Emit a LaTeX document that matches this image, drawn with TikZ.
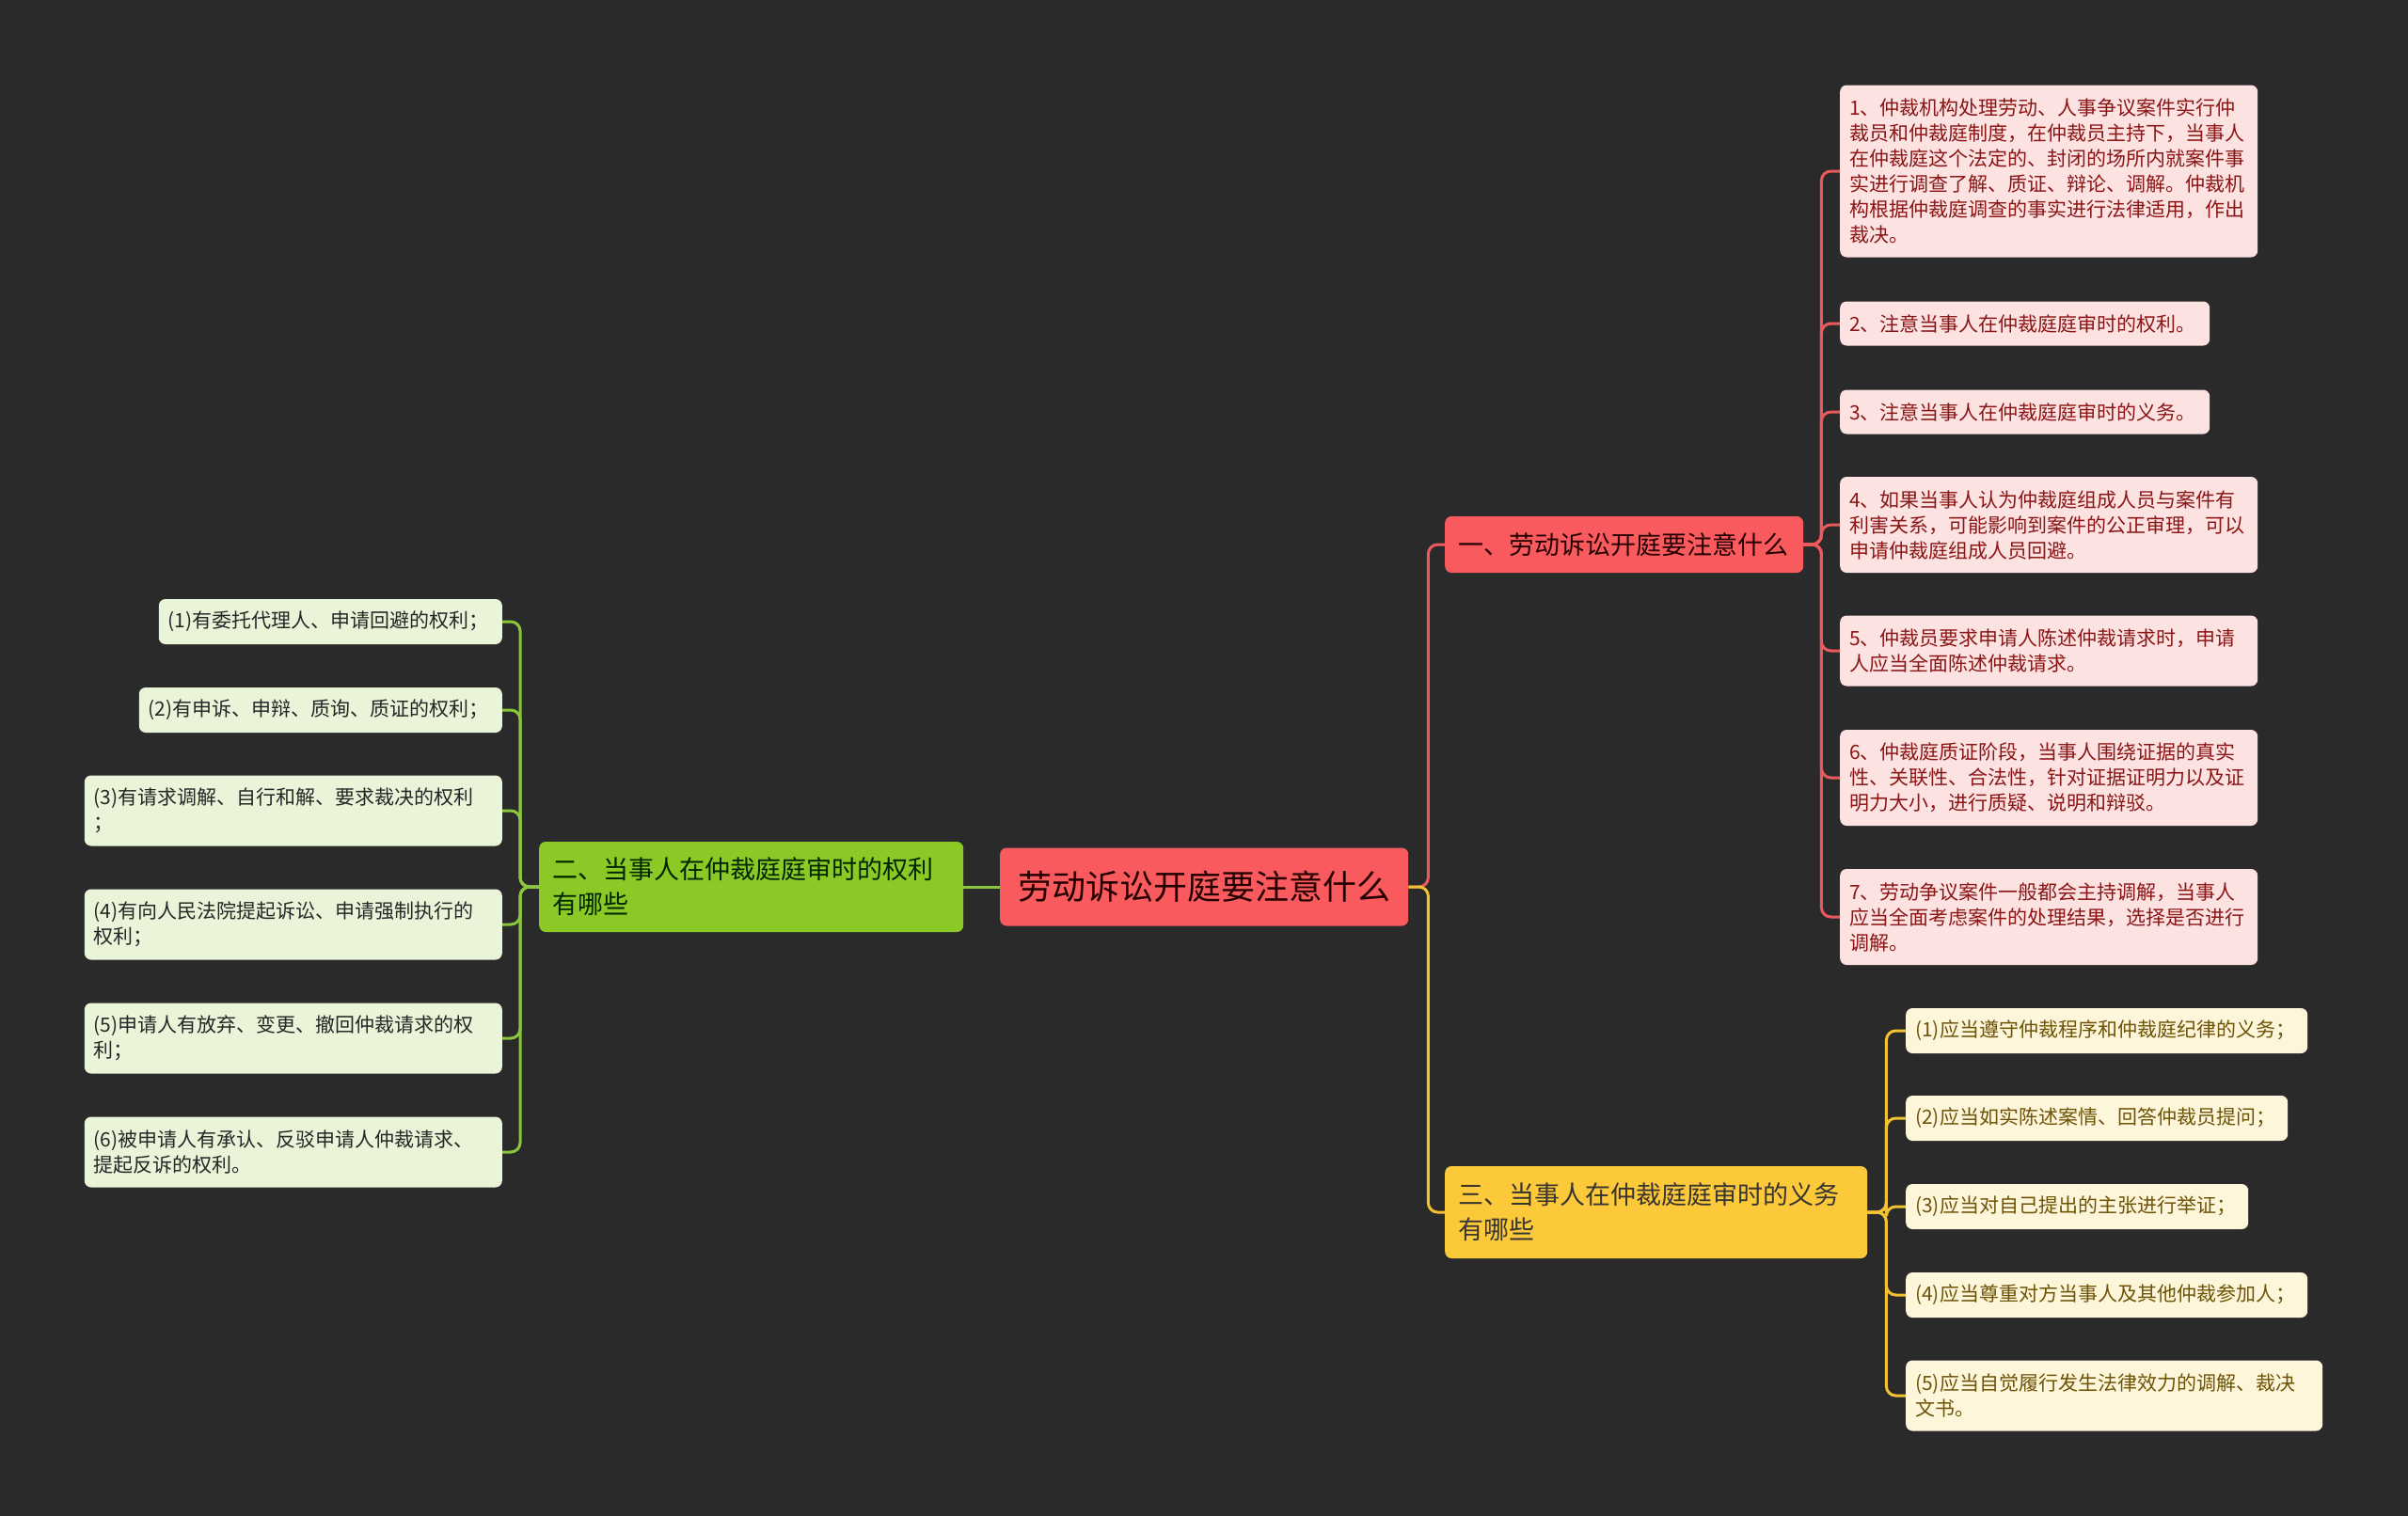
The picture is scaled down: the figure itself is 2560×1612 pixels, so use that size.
\documentclass[tikz,border=0pt]{standalone}
\usepackage{fontspec}
\setmainfont{Noto Sans CJK SC}
\usepackage{tikz}

\definecolor{bgcol}{HTML}{2A2A2A}
\definecolor{cRed}{HTML}{F85A5E}
\definecolor{cRedLine}{HTML}{EC5A5E}
\definecolor{cRedLeaf}{HTML}{FDE2E2}
\definecolor{cRedText}{HTML}{8B1515}
\definecolor{cGreen}{HTML}{8BC926}
\definecolor{cGreenLine}{HTML}{8CC63F}
\definecolor{cGreenLeaf}{HTML}{EAF4D8}
\definecolor{cYellow}{HTML}{FCC93A}
\definecolor{cYellowLine}{HTML}{F2C232}
\definecolor{cYellowLeaf}{HTML}{FEF6DA}
\definecolor{cYellowText}{HTML}{6D5306}

\begin{document}
\begin{tikzpicture}[x=1pt,y=-1pt,
  rounded corners=7pt,
  root node/.style={fill=cRed,text=black!85!red,minimum width=434pt,minimum height=83pt,
    inner sep=0pt,anchor=west,font=\fontsize{36}{44}\selectfont},
  main node/.style={inner xsep=14pt,inner ysep=0pt,align=left,anchor=west,
    font=\fontsize{27}{37}\selectfont},
  leaf node/.style={inner xsep=10pt,inner ysep=0pt,align=left,
    font=\fontsize{21}{27}\selectfont},
  red leaf/.style={leaf node,fill=cRedLeaf,text=cRedText,anchor=west},
  yellow leaf/.style={leaf node,fill=cYellowLeaf,text=cYellowText,anchor=west},
  green leaf/.style={leaf node,fill=cGreenLeaf,text=black!85,anchor=east},
  link/.style={line width=3pt,rounded corners=10pt}]

  \fill[bgcol,sharp corners] (0,0) rectangle (2560,1612);
  \useasboundingbox (0,0) rectangle (2560,1612);

  \node[root node] (root) at (1063,943) {劳动诉讼开庭要注意什么};
  \node[main node,fill=cRed,text=black!85!red,text width=353pt,minimum height=60pt] (one) at (1536,579) {一、劳动诉讼开庭要注意什么};
  \node[main node,fill=cGreen,text=black!85!green,text width=423pt,minimum height=96pt] (two) at (573,943) {二、当事人在仲裁庭庭审时的权利\\有哪些};
  \node[main node,fill=cYellow,text=black!90!yellow,text width=421pt,minimum height=98pt] (three) at (1536,1289) {三、当事人在仲裁庭庭审时的义务\\有哪些};

  % right, upper
  \node[red leaf,text width=424pt,minimum height=183pt] (r1) at (1956,182) {1、仲裁机构处理劳动、人事争议案件实行仲\\裁员和仲裁庭制度，在仲裁员主持下，当事人\\在仲裁庭这个法定的、封闭的场所内就案件事\\实进行调查了解、质证、辩论、调解。仲裁机\\构根据仲裁庭调查的事实进行法律适用，作出\\裁决。};
  \node[red leaf,text width=373pt,minimum height=47pt] (r2) at (1956,344) {2、注意当事人在仲裁庭庭审时的权利。};
  \node[red leaf,text width=373pt,minimum height=47pt] (r3) at (1956,438) {3、注意当事人在仲裁庭庭审时的义务。};
  \node[red leaf,text width=424pt,minimum height=102pt] (r4) at (1956,558) {4、如果当事人认为仲裁庭组成人员与案件有\\利害关系，可能影响到案件的公正审理，可以\\申请仲裁庭组成人员回避。};
  \node[red leaf,text width=424pt,minimum height=75pt] (r5) at (1956,692) {5、仲裁员要求申请人陈述仲裁请求时，申请\\人应当全面陈述仲裁请求。};
  \node[red leaf,text width=424pt,minimum height=102pt] (r6) at (1956,827) {6、仲裁庭质证阶段，当事人围绕证据的真实\\性、关联性、合法性，针对证据证明力以及证\\明力大小，进行质疑、说明和辩驳。};
  \node[red leaf,text width=424pt,minimum height=102pt] (r7) at (1956,975) {7、劳动争议案件一般都会主持调解，当事人\\应当全面考虑案件的处理结果，选择是否进行\\调解。};

  % right, lower
  \node[yellow leaf,text width=407pt,minimum height=48pt] (y1) at (2026,1096) {(1)应当遵守仲裁程序和仲裁庭纪律的义务；};
  \node[yellow leaf,text width=386pt,minimum height=48pt] (y2) at (2026,1189) {(2)应当如实陈述案情、回答仲裁员提问；};
  \node[yellow leaf,text width=344pt,minimum height=48pt] (y3) at (2026,1283) {(3)应当对自己提出的主张进行举证；};
  \node[yellow leaf,text width=407pt,minimum height=48pt] (y4) at (2026,1377) {(4)应当尊重对方当事人及其他仲裁参加人；};
  \node[yellow leaf,text width=423pt,minimum height=75pt] (y5) at (2026,1484) {(5)应当自觉履行发生法律效力的调解、裁决\\文书。};

  % left
  \node[green leaf,text width=345pt,minimum height=48pt] (g1) at (534,661) {(1)有委托代理人、申请回避的权利；};
  \node[green leaf,text width=366pt,minimum height=48pt] (g2) at (534,755) {(2)有申诉、申辩、质询、质证的权利；};
  \node[green leaf,text width=424pt,minimum height=75pt] (g3) at (534,862) {(3)有请求调解、自行和解、要求裁决的权利\\；};
  \node[green leaf,text width=424pt,minimum height=75pt] (g4) at (534,983) {(4)有向人民法院提起诉讼、申请强制执行的\\权利；};
  \node[green leaf,text width=424pt,minimum height=75pt] (g5) at (534,1104) {(5)申请人有放弃、变更、撤回仲裁请求的权\\利；};
  \node[green leaf,text width=424pt,minimum height=75pt] (g6) at (534,1225) {(6)被申请人有承认、反驳申请人仲裁请求、\\提起反诉的权利。};

  \draw[link,cRedLine] (root.east) -- ++(21,0) |- (one.west);
  \draw[link,cYellowLine] (root.east) -- ++(21,0) |- (three.west);
  \draw[link,cGreenLine] (root.west) -- (two.east);

  \foreach \leaf in {r1,r2,r3,r4,r5,r6,r7}
    \draw[link,cRedLine] (one.east) -- ++(19,0) |- (\leaf.west);
  \foreach \leaf in {y1,y2,y3,y4,y5}
    \draw[link,cYellowLine] (three.east) -- ++(20,0) |- (\leaf.west);
  \foreach \leaf in {g1,g2,g3,g4,g5,g6}
    \draw[link,cGreenLine] (two.west) -- ++(-20,0) |- (\leaf.east);

\end{tikzpicture}
\end{document}
